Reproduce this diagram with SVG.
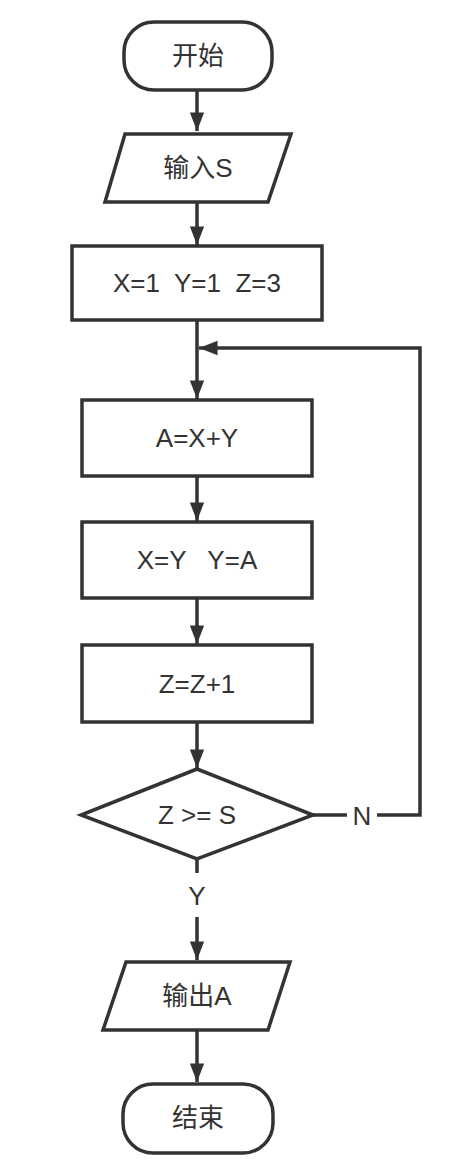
<svg xmlns="http://www.w3.org/2000/svg" width="450" height="1176" viewBox="0 0 450 1176">
<style>
.s{fill:#fff;stroke:#333;stroke-width:3.5}
.t{font-family:"Liberation Sans","Noto Sans CJK SC",sans-serif;font-size:26px;fill:#333;text-anchor:middle;dominant-baseline:central}
.c{fill:none;stroke:#333;stroke-width:3.5}
</style>
<defs>
<marker id="a" markerUnits="userSpaceOnUse" markerWidth="20" markerHeight="28" refX="26" refY="10" orient="auto" viewBox="0 0 28 20">
<path d="M0,0 L26,10 L0,20 Z" fill="#333"/>
</marker>
</defs>
<g id="connectors">
<path class="c" d="M197,90 V131" marker-end="url(#a)"/>
<path class="c" d="M197,203 V245" marker-end="url(#a)"/>
<path class="c" d="M197,320 V399" marker-end="url(#a)"/>
<path class="c" d="M197,476 V521" marker-end="url(#a)"/>
<path class="c" d="M197,598 V644" marker-end="url(#a)"/>
<path class="c" d="M197,722 V768" marker-end="url(#a)"/>
<path class="c" d="M313,815 H347 M377,815 H420 V348 H199" marker-end="url(#a)"/>
<path class="c" d="M197,859 V873 M197,917 V960" marker-end="url(#a)"/>
<path class="c" d="M197,1031 V1082" marker-end="url(#a)"/>
<text class="t" x="362" y="816">N</text>
<text class="t" x="197" y="896">Y</text>
</g>
<g id="start"><rect class="s" x="124" y="22" width="148" height="68" rx="30"/><text class="t" x="198" y="56">开始</text></g>
<g id="input"><path class="s" d="M125,134 H291 L268,202 H105 Z"/><text class="t" x="198" y="168">输入S</text></g>
<g id="init"><rect class="s" x="72" y="246" width="250" height="74"/><text class="t" x="197" y="283" xml:space="preserve">X=1  Y=1  Z=3</text></g>
<g id="sum"><rect class="s" x="82" y="400" width="230" height="76"/><text class="t" x="197" y="438">A=X+Y</text></g>
<g id="shift"><rect class="s" x="82" y="522" width="230" height="76"/><text class="t" x="197" y="560" xml:space="preserve">X=Y   Y=A</text></g>
<g id="inc"><rect class="s" x="82" y="645" width="230" height="77"/><text class="t" x="197" y="684">Z=Z+1</text></g>
<g id="cond"><path class="s" d="M197,769 L313,815 L197,859 L81,815 Z"/><text class="t" x="197" y="815">Z &gt;= S</text></g>
<g id="output"><path class="s" d="M126,962 H290 L268,1030 H103 Z"/><text class="t" x="197" y="996">输出A</text></g>
<g id="end"><rect class="s" x="123" y="1084" width="150" height="69" rx="30"/><text class="t" x="198" y="1118">结束</text></g>
</svg>
